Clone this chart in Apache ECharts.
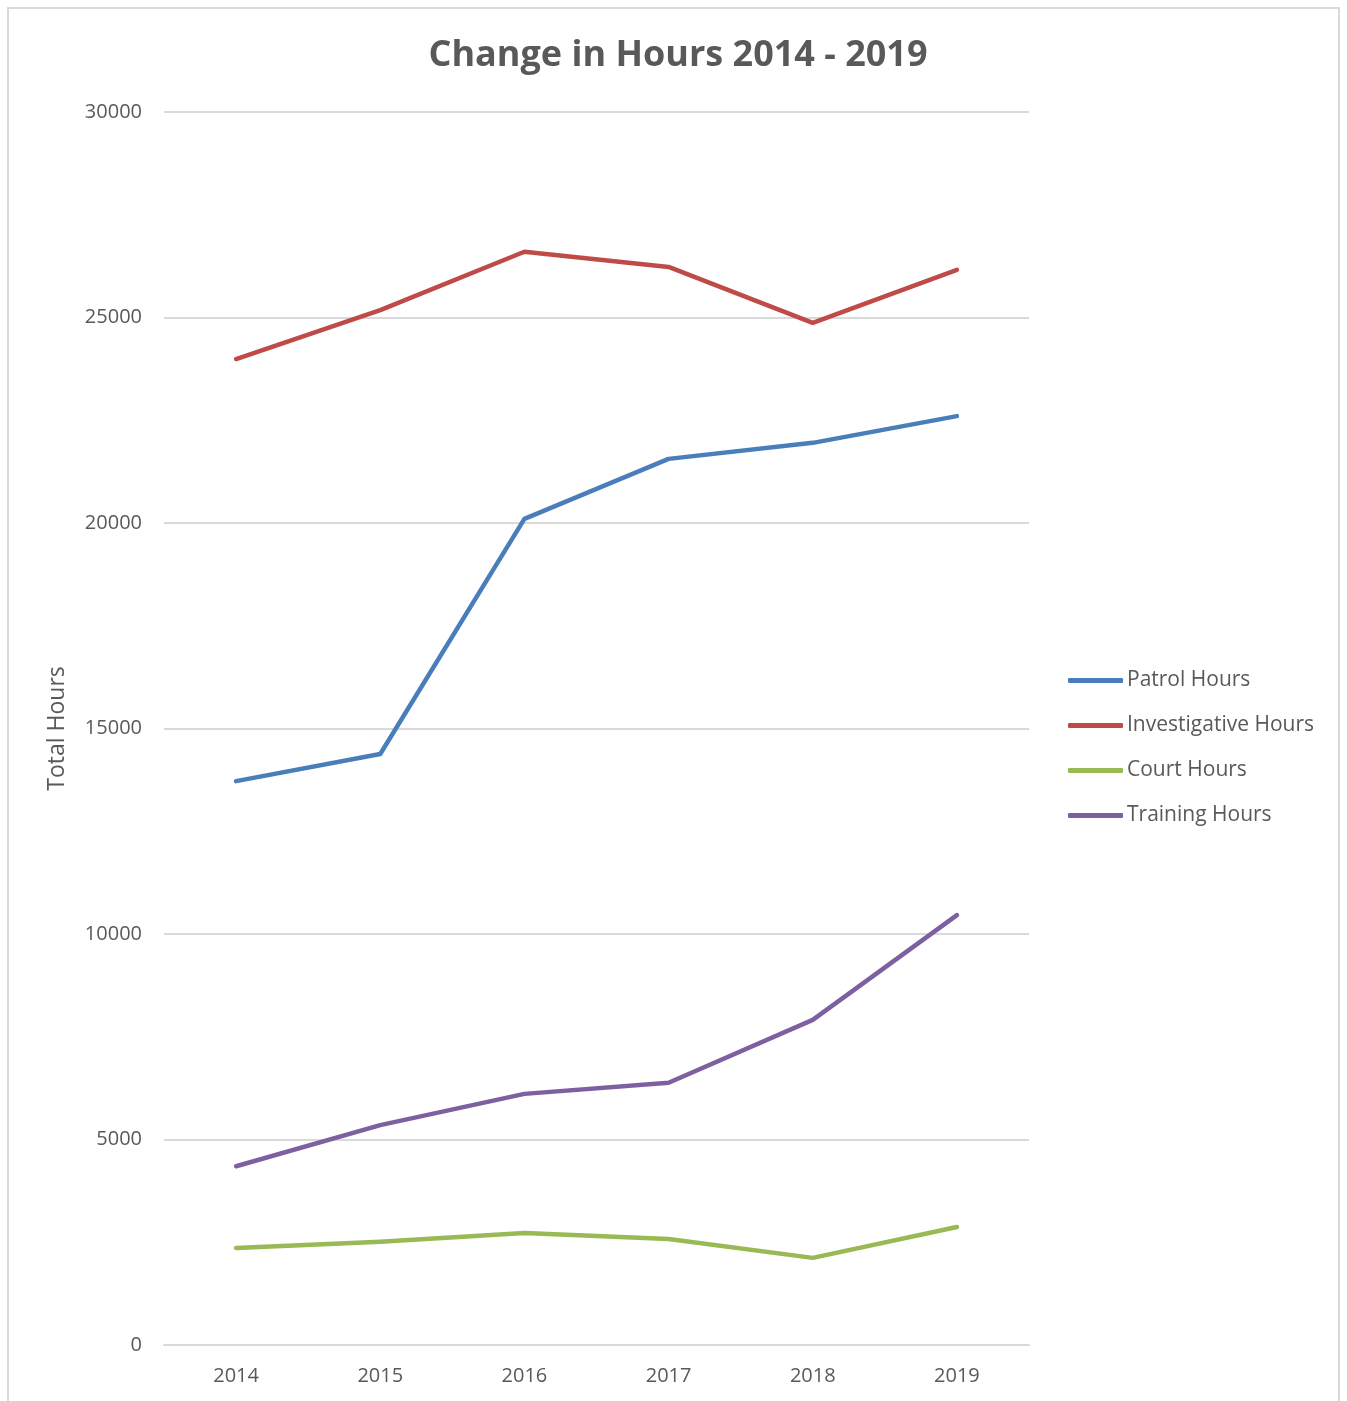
<!DOCTYPE html>
<html>
<head>
<meta charset="utf-8">
<script src="https://cdn.jsdelivr.net/npm/echarts@6/dist/echarts.min.js"></script>
<style>
  html, body { margin: 0; padding: 0; background: #fff; }
  #frame {
    position: absolute; left: 7px; top: 7px; width: 1333px; height: 1420px;
    border: 2px solid #d9d9d9; border-bottom: none; box-sizing: border-box;
  }
  #chart1 { position: absolute; left: 0; top: 0; width: 1347px; height: 1401px; }
</style>
</head>
<body>
<div id="frame"></div>
<div id="chart1"></div>
<script>
    // years on the x axis
    var years = ['2014', '2015', '2016', '2017', '2018', '2019'];

    // hours per series
    var patrolHours = [13720, 14380, 20100, 21560, 21950, 22600];
    var investigativeHours = [23990, 25180, 26600, 26230, 24870, 26160];
    var courtHours = [2360, 2510, 2725, 2580, 2120, 2870];
    var trainingHours = [4350, 5350, 6110, 6380, 7910, 10460];

    var names = ['Patrol Hours', 'Investigative Hours', 'Court Hours', 'Training Hours'];
    var colors = ['#4a7ebb', '#be4b48', '#98b954', '#7d60a0'];
    var values = [patrolHours, investigativeHours, courtHours, trainingHours];

    var font = '"Open Sans", "Liberation Sans", sans-serif';

    var series = [];
    for (var i = 0; i < names.length; i++) {
        series.push({
            name: names[i],
            type: 'line',
            data: values[i],
            symbol: 'none',
            lineStyle: { color: colors[i], width: 4.5, cap: 'round', join: 'round' },
            itemStyle: { color: colors[i] }
        });
    }

    var option = {
        animation: false,
        color: colors,
        title: {
            text: 'Change in Hours 2014 - 2019',
            left: 673,
            textAlign: 'center',
            top: 33,
            textStyle: {
                color: '#595959',
                fontSize: 36,
                fontWeight: 'bold',
                fontFamily: font
            }
        },
        legend: {
            orient: 'vertical',
            left: 1063,
            top: 665,
            itemWidth: 55,
            itemHeight: 5,
            itemGap: 24,
            icon: 'roundRect',
            data: names,
            textStyle: {
                color: '#595959',
                fontSize: 21,
                fontFamily: font,
                padding: [0, 0, 0, -1]
            }
        },
        grid: {
            left: 164,
            right: 318,
            top: 112,
            bottom: 56
        },
        xAxis: {
            type: 'category',
            data: years,
            boundaryGap: true,
            axisTick: { show: false },
            axisLine: { lineStyle: { color: '#d9d9d9', width: 2 } },
            axisLabel: {
                color: '#595959',
                fontSize: 20,
                fontFamily: font,
                margin: 21
            }
        },
        yAxis: {
            type: 'value',
            min: 0,
            max: 30000,
            interval: 5000,
            name: 'Total Hours',
            nameLocation: 'middle',
            nameGap: 95,
            nameTextStyle: {
                color: '#595959',
                fontSize: 23,
                fontFamily: font
            },
            axisLine: { show: false },
            axisTick: { show: false },
            axisLabel: {
                color: '#595959',
                fontSize: 20,
                fontFamily: font,
                margin: 22,
                formatter: function (v) { return String(v); }
            },
            splitLine: { lineStyle: { color: '#d9d9d9', width: 2 } }
        },
        series: series
    };

    var myChart = echarts.init(document.getElementById('chart1'));
    myChart.setOption(option);
</script>
</body>
</html>
